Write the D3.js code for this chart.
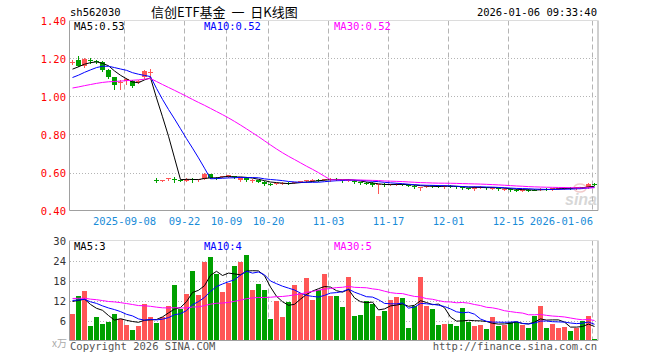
<!DOCTYPE html>
<html><head><meta charset="utf-8">
<script src="https://cdn.jsdelivr.net/npm/d3@7"></script>
<style>body{margin:0;background:#fff}svg{display:block}</style>
</head><body><svg id="c" width="660" height="360"></svg>
<script>
const dates = ["2025-08-26","2025-08-27","2025-08-28","2025-08-29","2025-09-01","2025-09-02","2025-09-03","2025-09-04","2025-09-05",
"2025-09-08","2025-09-09","2025-09-10","2025-09-11","2025-09-12","2025-09-15","2025-09-16","2025-09-17","2025-09-18","2025-09-19",
"2025-09-22","2025-09-23","2025-09-24","2025-09-25","2025-09-26","2025-09-29","2025-09-30","2025-10-09","2025-10-10",
"2025-10-13","2025-10-14","2025-10-15","2025-10-16","2025-10-17","2025-10-20","2025-10-21","2025-10-22","2025-10-23","2025-10-24",
"2025-10-27","2025-10-28","2025-10-29","2025-10-30","2025-10-31","2025-11-03","2025-11-04","2025-11-05","2025-11-06","2025-11-07",
"2025-11-10","2025-11-11","2025-11-12","2025-11-13","2025-11-14","2025-11-17","2025-11-18","2025-11-19","2025-11-20","2025-11-21",
"2025-11-24","2025-11-25","2025-11-26","2025-11-27","2025-11-28","2025-12-01","2025-12-02","2025-12-03","2025-12-04","2025-12-05",
"2025-12-08","2025-12-09","2025-12-10","2025-12-11","2025-12-12","2025-12-15","2025-12-16","2025-12-17","2025-12-18","2025-12-19",
"2025-12-22","2025-12-23","2025-12-24","2025-12-25","2025-12-26","2025-12-29","2025-12-30","2025-12-31","2026-01-05","2026-01-06"];

const open  = [1.178,1.190,1.162,1.192,1.185,1.180,1.140,1.100,1.072,1.080,1.082,1.078,1.100,1.128,
0.561,0.558,0.567,0.566,0.561,0.556,0.568,0.558,0.568,0.590,0.572,0.575,0.584,0.582,0.562,0.574,0.556,0.560,0.552,0.540,
0.540,0.544,0.546,0.545,0.550,0.556,0.558,0.562,0.560,0.560,0.566,0.560,0.560,0.556,0.550,0.545,0.544,0.534,0.542,0.536,
0.540,0.540,0.536,0.530,0.520,0.525,0.532,0.530,0.525,0.530,0.528,0.524,0.518,0.512,0.520,0.524,0.516,0.518,0.510,0.514,
0.510,0.505,0.510,0.510,0.508,0.514,0.512,0.514,0.516,0.520,0.516,0.524,0.522,0.540];
const high  = [1.190,1.212,1.202,1.200,1.192,1.186,1.145,1.102,1.085,1.095,1.086,1.085,1.140,1.145,
0.572,0.562,0.569,0.578,0.562,0.570,0.570,0.568,0.596,0.592,0.574,0.580,0.588,0.584,0.578,0.576,0.566,0.562,0.553,0.545,
0.546,0.548,0.548,0.552,0.556,0.562,0.566,0.564,0.568,0.572,0.570,0.562,0.566,0.558,0.552,0.548,0.548,0.542,0.546,0.542,
0.546,0.542,0.538,0.532,0.526,0.532,0.534,0.532,0.532,0.532,0.530,0.526,0.520,0.530,0.528,0.526,0.522,0.520,0.518,0.516,
0.512,0.512,0.512,0.514,0.516,0.516,0.518,0.520,0.522,0.522,0.524,0.526,0.545,0.546];
const low   = [1.172,1.160,1.155,1.178,1.176,1.135,1.098,1.040,1.040,1.065,1.050,1.070,1.095,1.100,
0.548,0.553,0.558,0.550,0.556,0.554,0.548,0.555,0.566,0.570,0.565,0.574,0.578,0.572,0.556,0.555,0.550,0.550,0.535,0.532,
0.538,0.540,0.538,0.544,0.548,0.552,0.556,0.555,0.558,0.556,0.560,0.552,0.556,0.545,0.540,0.538,0.528,0.490,0.530,0.532,
0.536,0.532,0.530,0.518,0.510,0.522,0.524,0.525,0.520,0.522,0.520,0.515,0.512,0.508,0.518,0.515,0.512,0.510,0.508,0.505,
0.502,0.503,0.505,0.506,0.506,0.510,0.510,0.512,0.514,0.514,0.514,0.518,0.520,0.532];
const close = [1.180,1.162,1.198,1.190,1.182,1.140,1.100,1.060,1.076,1.090,1.056,1.080,1.135,1.130,
0.560,0.561,0.569,0.564,0.558,0.568,0.558,0.566,0.594,0.572,0.570,0.579,0.585,0.574,0.575,0.558,0.562,0.552,0.538,0.539,
0.544,0.546,0.540,0.550,0.554,0.558,0.562,0.558,0.566,0.568,0.565,0.555,0.562,0.548,0.544,0.540,0.532,0.538,0.532,0.540,
0.542,0.535,0.532,0.522,0.524,0.530,0.527,0.528,0.530,0.526,0.524,0.518,0.515,0.526,0.524,0.518,0.520,0.512,0.514,0.508,
0.506,0.510,0.507,0.508,0.514,0.512,0.516,0.518,0.520,0.516,0.522,0.520,0.542,0.538];
// volume, in the units of the volume axis
const volume = [8.1,13.5,15,4.5,7.2,5.1,5.7,8.1,6.6,4.8,3.3,4.5,11.1,7.2,
5.4,7.2,10.5,16.8,9.6,14.1,21,13.8,23.7,25.2,20.1,14.7,17.4,22.5,23.7,25.8,15.3,17.1,15.3,6.6,
12,7.2,11.7,16.8,14.4,18.9,12.3,15.3,20.1,13.5,13.5,10.2,19.2,7.5,7.8,12,11.1,7.5,9,12.3,
13.2,12.9,3.9,10.5,19.2,10.5,9.6,4.8,5.1,5.1,4.5,9.9,5.7,4.5,4.8,3.6,7.2,4.5,4.8,5.7,
5.7,4.8,3.9,7.5,10.5,3.9,5.1,3.9,4.2,3,3.9,6,7.5,0.6];
// sessions before the window (estimated from where the MA lines start)
const earlierCloses = [0.99,1.00,1.01,1.00,0.99,1.00,1.01,1.02,1.01,1.00,1.02,1.03,1.02,1.03,1.04,1.03,1.02,1.03,1.04,1.05,
1.04,1.05,1.06,1.06,1.07,1.10,1.13,1.15,1.16];
const earlierVolumes = [12,14,13,12,13,14,12,13,13,12,14,13,12,13,13,12,14,13,12,14,12,13,12,12,12.5,12,13,12.5,13];

const tickDates  = ["2025-09-08","2025-09-22","2025-10-09","2025-10-20","2025-11-03","2025-11-17","2025-12-01","2025-12-15","2026-01-06"];
const tickLabels = ["2025-09-08","09-22","10-09","10-20","11-03","11-17","12-01","12-15","2026-01-06"];
const priceTicks = [1.40,1.20,1.00,0.80,0.60,0.40];
const volumeTicks = [30,24,18,12,6];
const priceMaText = ["MA5:0.53","MA10:0.52","MA30:0.52"];
const volumeMaText = ["MA5:3","MA10:4","MA30:5"];
const maPeriods = [5,10,30];
const maColors = ["#000000","#0000ff","#ff00ff"];

const RED = "#ff5656", GREEN = "#00a000", GRID = "#b4b4b4", FRAME = "#a0a0a0";
const MONO = "'DejaVu Sans Mono', monospace";

const svg = d3.select("#c");
const L = 70, R = 597;
const x = d3.scaleBand().domain(dates).range([L, R]).paddingInner(1/6).paddingOuter(0);
const bw = x.bandwidth();
const yP = d3.scaleLinear().domain([0.40, 1.40]).range([210.5, 20.5]);
const yV = d3.scaleLinear().domain([0, 30]).range([340.5, 240.5]);

function movingAvg(series, earlier, n) {
  const all = earlier.concat(series), off = earlier.length;
  return series.map((_, i) => d3.mean(all.slice(off + i - n + 1, off + i + 1)));
}
const rows = dates.map((d, i) => ({d, o: open[i], h: high[i], l: low[i], c: close[i], v: volume[i], up: close[i] >= open[i]}));

function panel(top, bottom, gridVals, yScale) {
  const g = svg.append("g");
  g.selectAll(".hg").data(gridVals).join("line")
    .attr("x1", L).attr("x2", R + 1).attr("y1", d => Math.round(yScale(d)) + 0.5).attr("y2", d => Math.round(yScale(d)) + 0.5)
    .attr("stroke", GRID).attr("stroke-dasharray", "1,2");
  g.selectAll(".vg").data(tickDates).join("line")
    .attr("x1", d => x(d) + 0.5).attr("x2", d => x(d) + 0.5).attr("y1", top).attr("y2", bottom)
    .attr("stroke", GRID).attr("stroke-dasharray", "5,3");
  g.append("path").attr("d", `M${L - 0.5},${top}V${bottom}H${R + 1}V${top}`).attr("fill", "none").attr("stroke", FRAME);
  g.append("line").attr("x1", L - 0.5).attr("x2", R + 1).attr("y1", top).attr("y2", top).attr("stroke", "#dcdcdc");
  return g;
}

// ---- price panel
panel(20.5, 210.5, [1.20, 1.00, 0.80, 0.60], yP);
svg.append("g").selectAll("text").data(priceTicks).join("text")
  .attr("x", 66).attr("y", d => yP(d) + 4).attr("text-anchor", "end")
  .attr("font-family", MONO).attr("font-size", 10.5).attr("fill", "#ff0000").text(d => d.toFixed(2));

// watermark
const wm = svg.append("g").attr("opacity", 0.55);
wm.append("ellipse").attr("cx", 580).attr("cy", 188).attr("rx", 6).attr("ry", 4).attr("fill", "none").attr("stroke", "#e8a0a0").attr("stroke-width", 1.5);
wm.append("circle").attr("cx", 580).attr("cy", 188).attr("r", 1.6).attr("fill", "#e8a0a0");
wm.append("text").attr("x", 581).attr("y", 205).attr("text-anchor", "middle").attr("font-family", "'Liberation Sans', Arial").attr("font-weight", "bold")
  .attr("font-style", "italic").attr("font-size", 16).attr("fill", "#b8b8b8").text("sina");

const candles = svg.append("g").attr("shape-rendering", "crispEdges");
candles.selectAll("line").data(rows).join("line")
  .attr("x1", d => x(d.d) + 2.5).attr("x2", d => x(d.d) + 2.5)
  .attr("y1", d => Math.round(yP(d.h))).attr("y2", d => Math.round(yP(d.l)) + 1)
  .attr("stroke", d => d.up ? RED : GREEN);
candles.selectAll("rect").data(rows).join("rect")
  .attr("x", d => x(d.d)).attr("width", bw)
  .attr("y", d => Math.round(yP(Math.max(d.o, d.c))))
  .attr("height", d => Math.max(1, Math.round(yP(Math.min(d.o, d.c))) - Math.round(yP(Math.max(d.o, d.c)))))
  .attr("fill", d => d.up ? RED : GREEN);

maPeriods.forEach((n, k) => {
  const m = movingAvg(close, earlierCloses, n);
  svg.append("path").datum(m)
    .attr("d", d3.line().x((_, i) => x(dates[i]) + 2.5).y(v => yP(v)))
    .attr("fill", "none").attr("stroke", maColors[k]).attr("stroke-width", 1);
});
svg.append("g").selectAll("text").data(priceMaText).join("text")
  .attr("x", (d, i) => [74, 204, 334][i]).attr("y", 30)
  .attr("font-family", MONO).attr("font-size", 10.5).attr("fill", (d, i) => maColors[i]).text(d => d);

// x labels
svg.append("g").selectAll("text").data(tickDates).join("text")
  .attr("x", (d, i) => i === tickDates.length - 1 ? x(d) + 1 : x(d) + 0.5).attr("y", 225)
  .attr("text-anchor", (d, i) => i === tickDates.length - 1 ? "end" : "middle")
  .attr("font-family", MONO).attr("font-size", 10.5).attr("fill", "#1a8cd8").text((d, i) => tickLabels[i]);

// ---- volume panel
panel(240.5, 340.5, volumeTicks.slice(1), yV);
svg.append("g").selectAll("text").data(volumeTicks).join("text")
  .attr("x", 66).attr("y", d => yV(d) + 4).attr("text-anchor", "end")
  .attr("font-family", MONO).attr("font-size", 10.5).attr("fill", "#333").text(d => d);

svg.append("g").attr("shape-rendering", "crispEdges").selectAll("rect").data(rows).join("rect")
  .attr("x", d => x(d.d)).attr("width", bw)
  .attr("y", d => Math.round(yV(d.v))).attr("height", d => 340 - Math.round(yV(d.v)))
  .attr("fill", d => d.up ? RED : GREEN);

maPeriods.forEach((n, k) => {
  const m = movingAvg(volume, earlierVolumes, n);
  svg.append("path").datum(m)
    .attr("d", d3.line().x((_, i) => x(dates[i]) + 2.5).y(v => yV(v)))
    .attr("fill", "none").attr("stroke", maColors[k]).attr("stroke-width", 1);
});
svg.append("g").selectAll("text").data(volumeMaText).join("text")
  .attr("x", (d, i) => [74, 204, 334][i]).attr("y", 250)
  .attr("font-family", MONO).attr("font-size", 10.5).attr("fill", (d, i) => maColors[i]).text(d => d);

// ---- header & footer
svg.append("text").attr("x", 70).attr("y", 16).attr("font-family", MONO).attr("font-size", 10.5).attr("fill", "#000").text("sh562030");
svg.append("text").attr("x", 151).attr("y", 17).attr("font-family", "'Noto Sans CJK SC'").attr("font-size", 13).attr("fill", "#000")
  .style("white-space", "pre").text("信创ETF基金  一  日K线图");
svg.append("text").attr("x", 597).attr("y", 16).attr("text-anchor", "end").attr("font-family", MONO).attr("font-size", 10.5).attr("fill", "#000").text("2026-01-06 09:33:40");
svg.append("text").attr("x", 67).attr("y", 347).attr("text-anchor", "end").attr("font-family", "'Noto Sans CJK SC'").attr("font-size", 10).attr("fill", "#aaa").text("x万");
svg.append("text").attr("x", 70).attr("y", 350).attr("font-family", MONO).attr("font-size", 10.5).attr("fill", "#555").text("Copyright 2026 SINA.COM");
svg.append("text").attr("x", 597).attr("y", 350).attr("text-anchor", "end").attr("font-family", MONO).attr("font-size", 10.5).attr("fill", "#555").text("http://finance.sina.com.cn");
</script></body></html>
